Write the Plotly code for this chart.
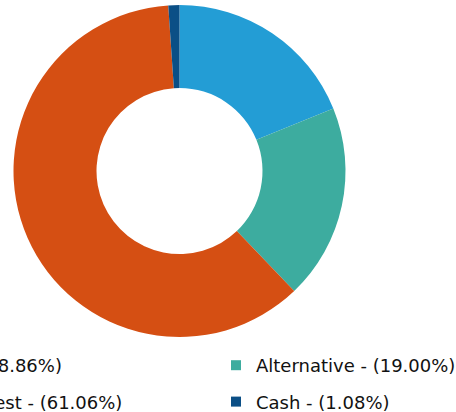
import plotly.graph_objects as go

labels = ["Shares", "Alternative", "Fixed Interest", "Cash"]
values = [18.86, 19.00, 61.06, 1.08]
colors = ["#239DD5", "#3DAC9F", "#D54F13", "#0B4F86"]
legend_of = ["legend", "legend2", "legend", "legend2"]

W, H = 456, 412
cx, cy, R = 179.5, 171.0, 166.0

fig = go.Figure()
fig.add_trace(go.Pie(
    labels=labels, values=values, sort=False, direction="clockwise",
    rotation=0, hole=0.5, textinfo="none", showlegend=False,
    marker=dict(colors=colors, line=dict(width=0)),
    domain=dict(x=[(cx - R) / W, (cx + R) / W], y=[1 - (cy + R) / H, 1 - (cy - R) / H]),
))
for lab, val, col, lg in zip(labels, values, colors, legend_of):
    fig.add_trace(go.Scatter(
        x=[None], y=[None], mode="markers", name=f"{lab} - ({val:.2f}%)",
        marker=dict(symbol="square", size=10, color=col),
        legend=lg, legendgroup=lab, showlegend=True,
    ))

font = dict(family="Verdana, DejaVu Sans, sans-serif", size=18, color="#111111")
fig.update_layout(
    width=W, height=H,
    margin=dict(l=0, r=0, t=0, b=0, autoexpand=False),
    paper_bgcolor="white", plot_bgcolor="white",
    xaxis=dict(visible=False), yaxis=dict(visible=False),
    legend=dict(x=-140 / W, y=1 - 347 / H, xanchor="left", yanchor="top",
                font=font, tracegroupgap=10, bgcolor="rgba(0,0,0,0)"),
    legend2=dict(x=216 / W, y=1 - 347 / H, xanchor="left", yanchor="top",
                 font=font, tracegroupgap=10, bgcolor="rgba(0,0,0,0)"),
)
fig.write_html("out.html", config={"displayModeBar": False},
               post_script="document.body.style.margin='0';document.body.style.overflow='hidden';")
